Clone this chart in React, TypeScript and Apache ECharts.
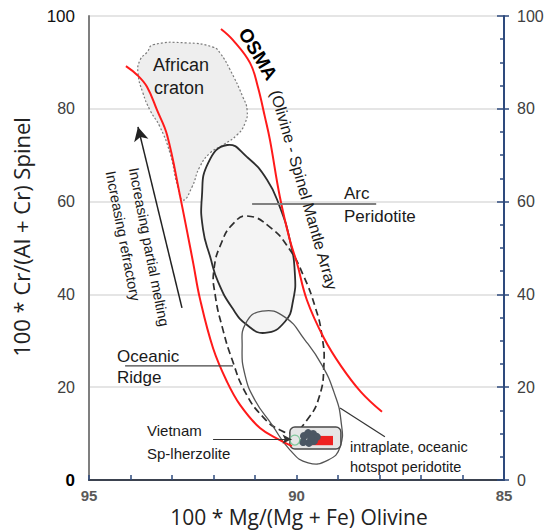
import React, { useEffect, useRef } from "react";
import * as echarts from "echarts";

type Pt = [number, number];

// Olivine-spinel mantle array (OSMA) envelope: [Mg# olivine, Cr# spinel]
const osmaLower: Pt[] = [
  [94.11, 89.2], [93.84, 87.3], [93.6, 84.7], [93.36, 79.7], [93.12, 74.4],
  [92.81, 61.4], [92.49, 46.8], [92.33, 39.2], [92.01, 28.4], [91.67, 21.1],
  [91.36, 16.2], [90.88, 11.2], [90.4, 8.6], [90.11, 7.3],
];
const osmaUpper: Pt[] = [
  [91.82, 97.2], [91.53, 94.8], [91.12, 89.9], [90.93, 84.7], [90.76, 78.2],
  [90.64, 73.3], [90.4, 61.0], [90.16, 51.7], [89.99, 46.8], [89.75, 38.8],
  [89.34, 30.6], [88.93, 24.6], [88.45, 19.0], [87.94, 14.7],
];

// Field outlines
const africanCraton: Pt[] = [
  [93.46, 93.8], [92.64, 94.2], [92.01, 93.3], [91.84, 92.0], [91.6, 88.4],
  [91.29, 82.5], [91.19, 79.7], [91.24, 76.9], [91.43, 74.4], [91.77, 72.2],
  [92.08, 70.5], [92.33, 67.5], [92.52, 63.1], [92.73, 60.3], [92.86, 63.1],
  [93.05, 70.5], [93.29, 76.1], [93.53, 79.7], [93.7, 83.4], [93.82, 87.7],
  [93.77, 90.5], [93.6, 92.2],
];
const arcPeridotite: Pt[] = [
  [91.67, 72.2], [91.19, 69.6], [90.71, 64.7], [90.4, 58.8], [90.16, 51.7],
  [90.04, 44.6], [90.08, 38.8], [90.28, 34.1], [90.76, 31.7], [91.19, 33.4],
  [91.55, 37.1], [91.89, 42.7], [92.08, 48.1], [92.25, 53.9], [92.28, 61.0],
  [92.13, 68.3],
];
const oceanicRidge: Pt[] = [
  [91.19, 56.9], [90.64, 54.5], [90.16, 49.6], [89.84, 44.2], [89.55, 37.3],
  [89.39, 31.3], [89.34, 24.8], [89.46, 17.7], [89.75, 12.9], [90.08, 10.3],
  [90.4, 10.8], [90.81, 13.6], [91.24, 19.0], [91.55, 25.9], [91.77, 32.3],
  [91.96, 39.9], [91.99, 45.3], [91.8, 51.3], [91.53, 55.2],
];
const intraplateHotspot: Pt[] = [
  [90.83, 36.4], [90.28, 35.1], [89.8, 30.2], [89.39, 24.8], [89.1, 19.0],
  [88.93, 12.9], [88.95, 7.1], [89.24, 4.3], [89.72, 3.7], [90.16, 6.5],
  [90.59, 11.9], [91.0, 17.2], [91.24, 22.6], [91.31, 28.7], [91.22, 33.8],
];

// Vietnam spinel lherzolite samples
const vietnamBox: Pt[] = [[90.16, 11.4], [88.93, 6.7]];
const vietnamSamples: Pt[] = [
  [89.82, 9.5], [89.72, 10.1], [89.6, 9.9], [89.51, 9.3], [89.58, 8.4],
  [89.7, 8.0], [89.84, 8.2], [89.65, 9.1],
];
const vietnamRedField: Pt[] = [[89.63, 9.5], [89.12, 7.5]];
const vietnamGreenSample: Pt[] = [[90.04, 8.6]];

// Label leader lines
const arcLeader: Pt[] = [[91.07, 59.5], [88.08, 59.5]];
const ridgeLeader: Pt[] = [[94.13, 24.6], [91.53, 24.6]];
const hotspotLeader: Pt[] = [[88.95, 15.5], [87.87, 9.3]];
const vietnamLeader: Pt[] = [[92.01, 8.8], [90.12, 8.8]];
const meltingArrow: Pt[] = [[92.76, 37.1], [93.82, 76.1]];

const xTickLabels = [95, 90, 85];

const SANS = "'Liberation Sans', Arial, sans-serif";
const TITLE_FONT = "'Open Sans', 'Liberation Sans', sans-serif";
const NAVY = "#2e4a7d";

function polygonSeries(name: string, pts: Pt[], style: any, smooth = 0.5) {
  return {
    type: "custom",
    name,
    silent: true,
    data: [pts[0]],
    renderItem: (_p: any, api: any) => ({
      type: "polygon",
      shape: { points: pts.map((p) => api.coord(p)), smooth },
      style,
    }),
  };
}

function rectSeries(name: string, corners: Pt[], style: any, r = 0) {
  return {
    type: "custom",
    name,
    silent: true,
    data: [corners[0]],
    renderItem: (_p: any, api: any) => {
      const a = api.coord(corners[0]);
      const b = api.coord(corners[1]);
      return {
        type: "rect",
        shape: {
          x: Math.min(a[0], b[0]),
          y: Math.min(a[1], b[1]),
          width: Math.abs(b[0] - a[0]),
          height: Math.abs(b[1] - a[1]),
          r,
        },
        style,
      };
    },
  };
}

function lineSeries(name: string, pts: Pt[], color: string, width: number, smooth: any = false) {
  return {
    type: "line",
    name,
    silent: true,
    data: pts,
    smooth,
    symbol: "none",
    lineStyle: { color, width },
  };
}

function arrowSeries(name: string, pts: Pt[], color: string, width: number, size: any) {
  return {
    type: "line",
    name,
    silent: true,
    data: [],
    markLine: {
      silent: true,
      symbol: ["none", "arrow"],
      symbolSize: size,
      label: { show: false },
      lineStyle: { color, width, type: "solid" },
      emphasis: { disabled: true },
      data: [[{ coord: pts[0] }, { coord: pts[1] }]],
    },
  };
}

function label(text: string, x: number, y: number, size: number, opts: any = {}) {
  return {
    type: "text",
    x,
    y,
    rotation: ((opts.rot || 0) * Math.PI) / 180,
    z: 100,
    silent: true,
    style: {
      text,
      fontSize: size,
      lineHeight: Math.round(size * 1.05),
      fontFamily: opts.font || SANS,
      fontWeight: opts.weight || "normal",
      fill: opts.color || "#1a1a1a",
      align: opts.align || "left",
      verticalAlign: "middle",
    },
  };
}

export default function App() {
  const ref = useRef<HTMLDivElement>(null);

  useEffect(() => {
    if (!ref.current) return;
    const chart = echarts.init(ref.current, undefined, { renderer: "svg" });

    const option: any = {
      animation: false,
      textStyle: { fontFamily: SANS },
      grid: { left: 89, right: 44, top: 16, bottom: 50 },
      xAxis: [
        {
          type: "value",
          min: 85,
          max: 95,
          interval: 1,
          inverse: true,
          position: "bottom",
          axisLine: { lineStyle: { color: NAVY, width: 2 } },
          axisTick: { inside: true, length: 5, lineStyle: { color: NAVY, width: 1.5 } },
          axisLabel: {
            margin: 8,
            color: "#595959",
            fontSize: 15,
            fontWeight: "bold",
            formatter: (v: number) => (xTickLabels.includes(v) ? String(v) : ""),
          },
          splitLine: { show: false },
        },
        {
          type: "value",
          min: 85,
          max: 95,
          inverse: true,
          position: "top",
          axisLine: { lineStyle: { color: "#404040", width: 1.5 } },
          axisTick: { show: false },
          axisLabel: { show: false },
          splitLine: { show: false },
        },
      ],
      yAxis: [
        {
          type: "value",
          min: 0,
          max: 100,
          interval: 20,
          position: "left",
          axisLine: { show: true, lineStyle: { color: "#7f7f7f", width: 2 } },
          axisTick: { show: false },
          axisLabel: {
            margin: 14,
            formatter: (v: number) =>
              v === 0 ? `{z|${v}}` : v === 100 ? `{t|${v}}` : `{g|${v}}`,
            rich: {
              z: { fontSize: 17, fontWeight: "bold", color: "#000" },
              t: { fontSize: 17, color: "#111" },
              g: { fontSize: 16, color: "#404040" },
            },
          },
          splitLine: { lineStyle: { color: "#dcdcdc", width: 1.5 } },
        },
        {
          type: "value",
          min: 0,
          max: 100,
          interval: 20,
          position: "right",
          axisLine: { show: true, lineStyle: { color: NAVY, width: 2 } },
          axisTick: { inside: true, length: 7, lineStyle: { color: NAVY, width: 1.5 } },
          minorTick: { show: true, splitNumber: 4, length: 4, lineStyle: { color: NAVY, width: 1.5 } },
          axisLabel: { margin: 13, color: "#404040", fontSize: 16 },
          splitLine: { show: false },
        },
        {
          type: "value",
          min: 0,
          max: 100,
          interval: 20,
          position: "right",
          axisLine: { show: false },
          axisTick: { show: true, inside: false, length: 5, lineStyle: { color: NAVY, width: 1.5 } },
          axisLabel: { show: false },
          splitLine: { show: false },
        },
      ],
      series: [
        polygonSeries("African craton", africanCraton, {
          fill: "#eeeeee",
          stroke: "#7a7a7a",
          lineWidth: 1.2,
          lineDash: [2, 2],
        }),
        polygonSeries("Arc peridotite", arcPeridotite, {
          fill: "#f4f4f4",
          stroke: "#2e2e2e",
          lineWidth: 1.8,
        }),
        polygonSeries("Oceanic ridge", oceanicRidge, {
          fill: "none",
          stroke: "#2e2e2e",
          lineWidth: 1.7,
          lineDash: [7, 4],
        }),
        polygonSeries("Intraplate hotspot", intraplateHotspot, {
          fill: "none",
          stroke: "#555555",
          lineWidth: 1.3,
        }),
        lineSeries("OSMA lower", osmaLower, "#ff1a1a", 2, 0.4),
        lineSeries("OSMA upper", osmaUpper, "#ff1a1a", 2, 0.4),
        lineSeries("Arc leader", arcLeader, "#808080", 2),
        lineSeries("Ridge leader", ridgeLeader, "#444444", 1.1),
        lineSeries("Hotspot leader", hotspotLeader, "#333333", 1.2),
        rectSeries(
          "Vietnam box",
          vietnamBox,
          { fill: "#e6e6e6", stroke: "#4a4a4a", lineWidth: 1.5 },
          5
        ),
        rectSeries("Vietnam red field", vietnamRedField, { fill: "#ee2222" }),
        {
          type: "scatter",
          name: "Vietnam samples",
          silent: true,
          data: vietnamSamples,
          symbol: "circle",
          symbolSize: 8,
          itemStyle: { color: "#4b5663", opacity: 1 },
        },
        {
          type: "scatter",
          name: "Vietnam green",
          silent: true,
          data: vietnamGreenSample,
          symbol: "circle",
          symbolSize: 10,
          itemStyle: { color: "rgba(0,0,0,0)", borderColor: "#6cc08b", borderWidth: 1.3 },
        },
        arrowSeries("Vietnam leader", vietnamLeader, "#333333", 1.1, [7, 9]),
        arrowSeries("Melting arrow", meltingArrow, "#222222", 1.5, [11, 14]),
      ],
      graphic: [
        label("African", 153, 65, 18),
        label("craton", 154, 88, 18),
        label("OSMA", 258, 54, 19, { rot: -59, weight: "bold", align: "center", color: "#000" }),
        label("(Olivine - Spinel Mantle Array", 304, 190, 16, { rot: -74, align: "center" }),
        label("Arc", 344, 193, 17),
        label("Peridotite", 344, 216, 17),
        label("Oceanic", 117, 356, 17),
        label("Ridge", 117, 377, 17),
        label("Vietnam", 147, 430, 15),
        label("Sp-lherzolite", 147, 453, 15),
        label("intraplate, oceanic", 350, 447, 14.5),
        label("hotspot peridotite", 350, 467, 14.5),
        label("Increasing partial melting", 149, 247, 14.5, { rot: -79, align: "center" }),
        label("Increasing refractory", 123, 236, 14.5, { rot: -79, align: "center" }),
        label("100 * Mg/(Mg + Fe) Olivine", 299, 517, 21, { align: "center", font: TITLE_FONT, color: "#222" }),
        label("100 * Cr/(Al + Cr) Spinel", 21, 237, 22, { rot: 90, align: "center", font: TITLE_FONT, color: "#222" }),
      ],
    };

    chart.setOption(option);
    return () => chart.dispose();
  }, []);

  return (
    <div
      ref={ref}
      style={{ position: "fixed", left: 0, top: 0, width: 548, height: 530, background: "#fff" }}
    />
  );
}
